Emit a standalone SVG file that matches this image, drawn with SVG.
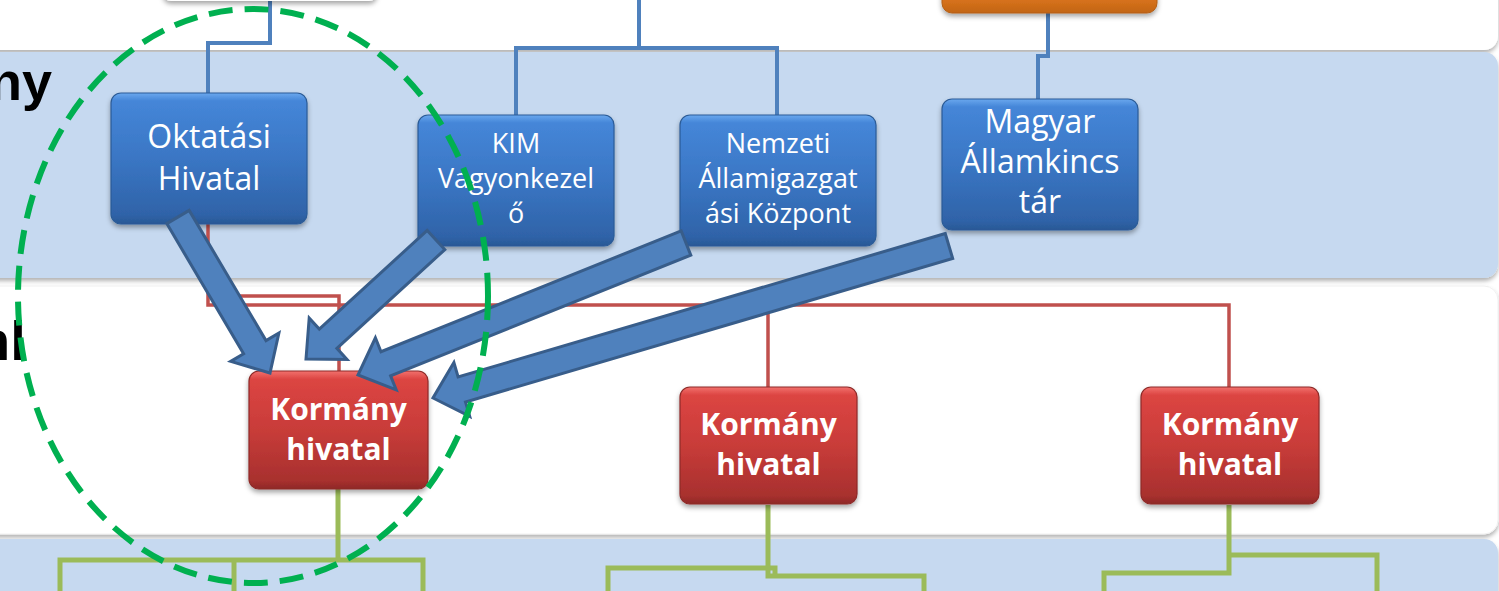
<svg xmlns="http://www.w3.org/2000/svg" width="1499" height="591" viewBox="0 0 1499 591">
<style>
.band-w{fill:#FFFFFF;}
.band-b{fill:#C6D9F0;}
.nbox{stroke:#2B5B97;stroke-width:1.2;}
.rbox{stroke:#8E2A28;stroke-width:1.2;}
.t{font-family:"Open Sans","Liberation Sans",sans-serif;fill:#FFFFFF;text-anchor:middle;}
.tb{font-family:"Open Sans","Liberation Sans",sans-serif;fill:#FFFFFF;text-anchor:middle;font-weight:bold;font-size:30px;}
.lbl{font-family:"Liberation Sans",Arial,sans-serif;font-weight:bold;fill:#000000;}
.cb{fill:none;stroke:#4F81BD;stroke-width:4;}
.cr{fill:none;stroke:#C0504D;stroke-width:3.5;}
.cg{fill:none;stroke:#9BBB59;stroke-width:5;}
.arr{fill:#4F81BD;stroke:#385D8A;stroke-width:3;stroke-linejoin:miter;}
</style>
<defs>
<filter id="sh" x="-10%" y="-10%" width="120%" height="130%">
<feDropShadow dx="0" dy="3" stdDeviation="2.5" flood-color="#000" flood-opacity="0.35"/>
</filter>
<filter id="bsh" x="-5%" y="-20%" width="110%" height="140%">
<feDropShadow dx="0" dy="3" stdDeviation="2" flood-color="#000" flood-opacity="0.3"/>
</filter>
<linearGradient id="gb" x1="0" y1="0" x2="0" y2="1">
<stop offset="0" stop-color="#6AA8EE"/>
<stop offset="0.06" stop-color="#4586D8"/>
<stop offset="0.5" stop-color="#3A76C4"/>
<stop offset="0.93" stop-color="#2F63A8"/>
<stop offset="1" stop-color="#2A5895"/>
</linearGradient>
<linearGradient id="gr" x1="0" y1="0" x2="0" y2="1">
<stop offset="0" stop-color="#F2716D"/>
<stop offset="0.07" stop-color="#DC4542"/>
<stop offset="0.5" stop-color="#C83C39"/>
<stop offset="0.93" stop-color="#A8302E"/>
<stop offset="1" stop-color="#8E2927"/>
</linearGradient>
<linearGradient id="go" x1="0" y1="0" x2="0" y2="1">
<stop offset="0" stop-color="#F39A45"/>
<stop offset="0.6" stop-color="#E47A22"/>
<stop offset="1" stop-color="#C26513"/>
</linearGradient>
</defs>

<rect x="0" y="0" width="1499" height="591" fill="#FFFFFF"/>

<g id="bands">
<rect class="band-w" x="-30" y="-40" width="1528" height="90" rx="14" filter="url(#bsh)"/>
<rect class="band-b" x="-30" y="52" width="1528" height="226" rx="14" filter="url(#bsh)"/>
<rect class="band-w" x="-30" y="286" width="1528" height="248" rx="14" filter="url(#bsh)" stroke="#F0F0F0" stroke-width="1"/>
<rect class="band-b" x="-30" y="539" width="1528" height="100" rx="14" filter="url(#bsh)"/>
</g>

<g id="band-labels">
<text class="lbl" x="52" y="100" font-size="54" text-anchor="end">ny</text>
<text class="lbl" x="-24" y="360" font-size="56">nl</text>
</g>

<g id="connectors">
<path class="cb" d="M270,0 V43 H208 V95"/>
<path class="cb" d="M639,0 V48 H516 V115 M639,48 H777 V115"/>
<path class="cb" d="M1048,13 V56 H1038 V100"/>
<path class="cr" d="M208,224 V305 H1229 V387 M768,305 V387"/>
<path class="cr" d="M208,296 H339 V371"/>
<path class="cg" d="M338,489 V560 M60,591 V560 H423 V591 M234,560 V591"/>
<path class="cg" d="M768,505 V576 H924 V591 M608,591 V568 H775 V576"/>
<path class="cg" d="M1229,505 V573 H1104 V591 M1229,555 H1377 V591"/>
</g>

<g id="node-top-left">
<rect x="163" y="-40" width="214" height="41" rx="8" fill="#FFFFFF" filter="url(#sh)"/>
</g>
<g id="node-top-orange">
<rect x="942" y="-40" width="215" height="53" rx="10" fill="url(#go)" stroke="#B35F14" stroke-width="1" filter="url(#sh)"/>
</g>

<g id="node-oktatasi">
<rect class="nbox" x="111" y="93" width="196" height="131" rx="10" fill="url(#gb)" filter="url(#sh)"/>
<text class="t" font-size="32" x="209" y="148">Oktatási</text>
<text class="t" font-size="32" x="209" y="190">Hivatal</text>
</g>
<g id="node-kim">
<rect class="nbox" x="418" y="115" width="196" height="131" rx="10" fill="url(#gb)" filter="url(#sh)"/>
<text class="t" font-size="27" x="516" y="153">KIM</text>
<text class="t" font-size="27" x="516" y="188">Vagyonkezel</text>
<text class="t" font-size="27" x="516" y="223">ő</text>
</g>
<g id="node-nemzeti">
<rect class="nbox" x="680" y="115" width="196" height="131" rx="10" fill="url(#gb)" filter="url(#sh)"/>
<text class="t" font-size="27" x="778" y="153">Nemzeti</text>
<text class="t" font-size="27" x="778" y="188">Államigazgat</text>
<text class="t" font-size="27" x="778" y="223">ási Központ</text>
</g>
<g id="node-magyar">
<rect class="nbox" x="942" y="99" width="196" height="131" rx="10" fill="url(#gb)" filter="url(#sh)"/>
<text class="t" font-size="32" x="1040" y="133">Magyar</text>
<text class="t" font-size="32" x="1040" y="173">Államkincs</text>
<text class="t" font-size="32" x="1040" y="213">tár</text>
</g>

<g id="node-kormany-1">
<rect class="rbox" x="249" y="371" width="179" height="118" rx="10" fill="url(#gr)" filter="url(#sh)"/>
<text class="tb" x="338.5" y="420">Kormány</text>
<text class="tb" x="338.5" y="460">hivatal</text>
</g>
<g id="node-kormany-2">
<rect class="rbox" x="680" y="387" width="177" height="117" rx="10" fill="url(#gr)" filter="url(#sh)"/>
<text class="tb" x="768.5" y="435">Kormány</text>
<text class="tb" x="768.5" y="475">hivatal</text>
</g>
<g id="node-kormany-3">
<rect class="rbox" x="1141" y="387" width="178" height="117" rx="10" fill="url(#gr)" filter="url(#sh)"/>
<text class="tb" x="1230" y="435">Kormány</text>
<text class="tb" x="1230" y="475">hivatal</text>
</g>

<g id="block-arrows">
<polygon class="arr" points="166.8,223.6 243.6,353.8 230.7,361.4 270,373 278.9,333.0 266.0,340.6 189.2,210.4"/>
<polygon class="arr" points="427.2,230.4 319.3,329.1 309.2,318.0 306,359 347.0,359.4 336.9,348.3 444.8,249.6"/>
<polygon class="arr" points="681.2,230.9 381.0,351.7 375.4,337.8 358,375 396.2,389.8 390.6,375.9 690.8,255.1"/>
<polygon class="arr" points="945.3,233.5 458.1,377.0 453.9,362.6 433,398 469.7,416.4 465.5,402.0 952.7,258.5"/>
</g>

<g id="highlight-circle">
<ellipse cx="253" cy="296" rx="235" ry="287" fill="none" stroke="#00B050" stroke-width="6" stroke-dasharray="24 12"/>
</g>
</svg>
